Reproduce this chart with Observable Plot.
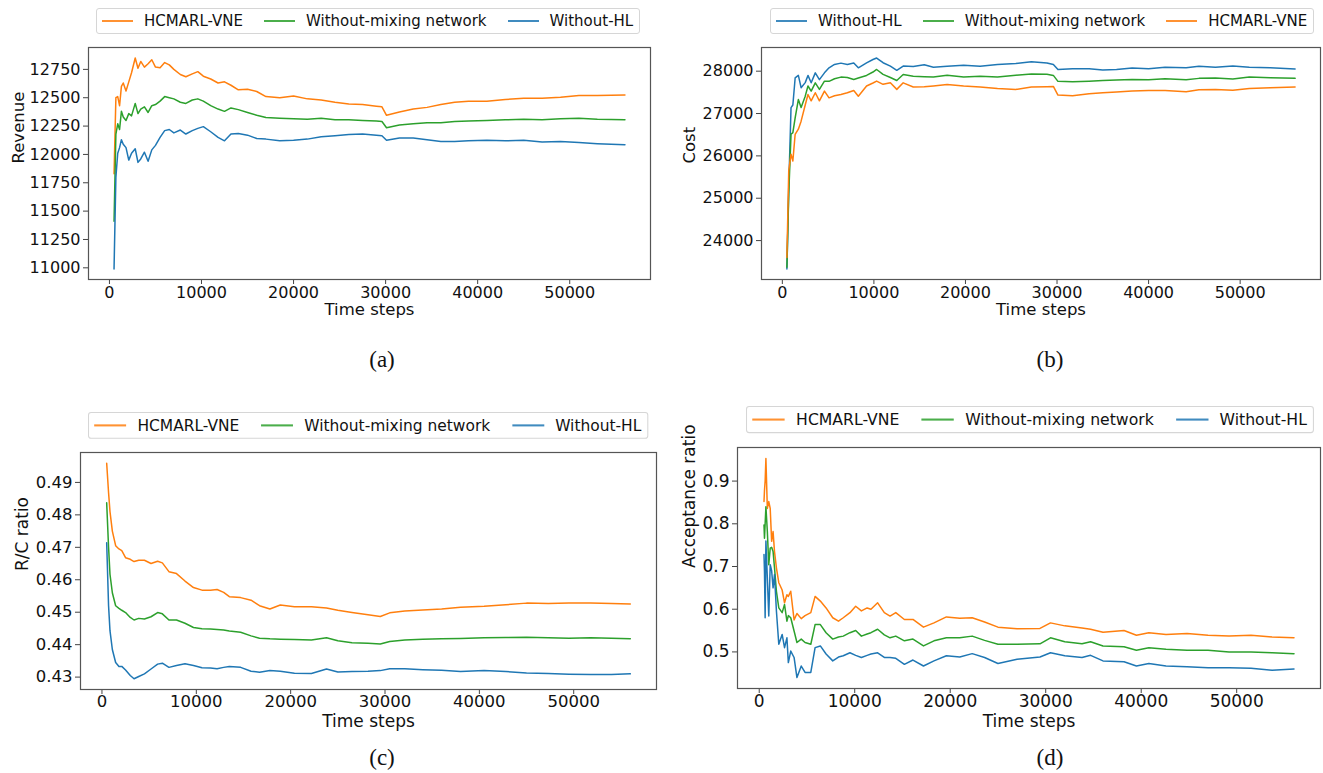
<!DOCTYPE html>
<html><head><meta charset="utf-8">
<script src="https://cdn.jsdelivr.net/npm/d3@7"></script>
<script src="https://cdn.jsdelivr.net/npm/@observablehq/plot@0.6"></script>
<style>
body{margin:0;background:#fff;}
#page{position:relative;width:1323px;height:773px;overflow:hidden;font-family:"DejaVu Sans",sans-serif;background:#fff;}
.panel{position:absolute;}
.legend{position:absolute;display:flex;align-items:center;height:26px;box-sizing:border-box;border:1px solid #d6d6d6;border-radius:3px;padding:0 6px 0 5px;font-size:15px;color:#111;background:#fff;white-space:nowrap;transform-origin:0 0;}
.legend .item{display:flex;align-items:center;margin-right:21px;}
.legend .item:last-child{margin-right:0;}
.legend .swatch{width:31px;height:0;border-top:2px solid;margin-right:11px;opacity:0.85;}
.caption{position:absolute;font-family:"Liberation Serif","Times New Roman",serif;font-size:23px;color:#111;transform:translate(-50%,-50%);}
</style></head><body><div id="page"></div>
<script>
// ---------- names & colours ----------
const seriesNames = {hc: "HCMARL-VNE", nomix: "Without-mixing network", nohl: "Without-HL"};
const seriesColors = {hc: "#ff7f0e", nomix: "#2ca02c", nohl: "#1f77b4"};
const xTicks = [0, 10000, 20000, 30000, 40000, 50000];

// ---------- (a) Revenue ----------
const revenueSteps = [500,700,900,1100,1300,1500,1800,2100,2400,2800,3100,3400,3800,4200,4600,5000,5500,6000,6500,7000,7700,8300,9000,9600,10200,11000,11800,12500,13200,14000,15000,16000,17000,18500,20000,21500,23000,24500,26000,27500,29000,29600,30100,31500,33000,34500,36000,37500,39000,41000,43000,45000,47000,49000,51000,53000,56000];
const revenueHC = [11830,12500,12510,12430,12600,12630,12560,12640,12720,12850,12760,12820,12770,12800,12835,12770,12765,12810,12790,12750,12705,12685,12710,12730,12690,12665,12630,12640,12610,12570,12575,12555,12510,12500,12515,12490,12480,12460,12445,12440,12425,12420,12345,12375,12400,12415,12440,12460,12470,12470,12485,12495,12495,12505,12520,12520,12525];
const revenueNoMix = [11410,12180,12270,12220,12380,12330,12300,12360,12340,12450,12360,12400,12420,12370,12430,12440,12470,12510,12500,12490,12460,12450,12480,12490,12470,12430,12400,12380,12410,12395,12370,12345,12325,12320,12315,12310,12320,12305,12305,12300,12295,12290,12235,12260,12270,12280,12280,12290,12295,12300,12305,12310,12305,12315,12320,12310,12305];
const revenueNoHL = [10990,11800,12010,12060,12130,12090,12060,11950,12010,12050,11930,11960,12020,11940,12040,12080,12150,12210,12220,12190,12215,12180,12210,12230,12245,12200,12150,12120,12180,12185,12170,12140,12135,12120,12125,12135,12155,12165,12175,12180,12170,12165,12125,12145,12145,12130,12115,12115,12120,12125,12120,12125,12110,12115,12105,12095,12085];
const revenueTicks = [11000,11250,11500,11750,12000,12250,12500,12750];

// ---------- (b) Cost ----------
const costSteps = [500,700,950,1150,1400,1750,2050,2500,2800,3150,3600,4050,4600,5100,5700,6400,7100,7800,8300,9200,9900,10300,11000,11800,12500,13200,14300,15500,16500,18000,19800,21600,23500,25500,27200,28900,29600,30100,31700,33500,35000,36500,38200,40000,41800,44100,45500,47300,49200,51000,53300,56000];
const costNoHL = [23330,25250,27140,27200,27840,27900,27610,27730,27900,27725,27960,27800,27960,28080,28160,28190,28160,28195,28080,28195,28275,28310,28200,28120,28020,28120,28110,28150,28095,28115,28140,28115,28155,28180,28220,28195,28160,28040,28055,28060,28030,28040,28075,28055,28095,28080,28115,28095,28125,28095,28080,28050];
const costNoMix = [23370,25100,26510,26550,26900,27330,27140,27410,27650,27530,27725,27570,27765,27760,27820,27860,27850,27805,27840,27900,27980,28040,27925,27850,27780,27920,27880,27870,27860,27905,27860,27880,27860,27905,27935,27925,27900,27760,27750,27765,27780,27790,27805,27796,27820,27800,27830,27840,27815,27860,27845,27830];
const costHC = [23600,25650,26040,25880,26510,26630,26820,27200,27450,27300,27490,27300,27530,27370,27420,27450,27490,27545,27410,27650,27720,27765,27690,27725,27570,27725,27625,27630,27650,27686,27650,27624,27592,27569,27624,27635,27640,27435,27420,27467,27490,27510,27529,27545,27545,27514,27560,27569,27550,27592,27608,27624];
const costTicks = [24000,25000,26000,27000,28000];

// ---------- (c) R/C ratio ----------
const rcSteps = [500,700,850,1100,1450,1800,2100,2500,3000,3400,3900,4500,5200,5900,6400,7100,7900,8800,9700,10600,11500,12200,12900,13500,14700,15800,16700,17800,18900,20400,22200,23800,25000,26500,28200,29500,30500,32100,34000,36000,38000,40500,42800,45000,47300,49500,51800,54000,56000];
const rcHC = [.4959,.4868,.4810,.4750,.4705,.4695,.4690,.4668,.4663,.4656,.4660,.4660,.4650,.4657,.4652,.4625,.4619,.4596,.4576,.4568,.4568,.4570,.4561,.4548,.4545,.4537,.4520,.4510,.4522,.4517,.4517,.4513,.4506,.4499,.4492,.4487,.4498,.4504,.4507,.4510,.4515,.4518,.4523,.4528,.4527,.4528,.4528,.4527,.4525];
const rcNoMix = [.4837,.4700,.4617,.4560,.4520,.4512,.4506,.4499,.4484,.4476,.4481,.4479,.4486,.4499,.4495,.4476,.4476,.4466,.4453,.4449,.4448,.4447,.4445,.4442,.4438,.4427,.4420,.4418,.4417,.4416,.4414,.4421,.4412,.4406,.4404,.4402,.4410,.4414,.4417,.4418,.4419,.4421,.4422,.4423,.4421,.4420,.4421,.4420,.4418];
const rcNoHL = [.4714,.4520,.4443,.4385,.4345,.4333,.4333,.4322,.4305,.4295,.4302,.4310,.4325,.4340,.4343,.4330,.4336,.4341,.4336,.4329,.4328,.4326,.4330,.4333,.4330,.4318,.4315,.4320,.4318,.4312,.4311,.4325,.4316,.4317,.4318,.4320,.4326,.4326,.4323,.4321,.4317,.4320,.4317,.4313,.4311,.4309,.4308,.4308,.4310];
const rcTicks = [0.43,0.44,0.45,0.46,0.47,0.48,0.49];

// ---------- (d) Acceptance ratio ----------
const accSteps = [500,550,620,700,850,1000,1150,1300,1450,1600,1800,2050,2400,2650,2900,3050,3300,3650,3950,4400,4800,5400,5850,6400,7000,7700,8300,8800,9500,10100,10700,11300,11700,12400,13100,13700,14300,15200,16100,17200,18300,19600,21000,22300,23600,25000,27000,29400,30500,32000,33800,34700,36000,38200,39500,40800,42600,44800,47000,49200,51500,53700,56000];
const accHC = [.852,.878,.900,.953,.836,.852,.836,.759,.782,.735,.697,.662,.645,.615,.634,.630,.642,.575,.590,.578,.585,.592,.630,.619,.603,.580,.572,.580,.592,.607,.596,.603,.600,.615,.592,.584,.592,.576,.576,.558,.568,.582,.579,.580,.570,.558,.554,.555,.568,.561,.556,.553,.546,.550,.539,.545,.541,.543,.539,.537,.539,.535,.533];
const accNoMix = [.797,.766,.800,.840,.782,.704,.743,.745,.735,.697,.642,.603,.592,.611,.572,.585,.580,.549,.522,.530,.522,.518,.564,.564,.545,.530,.535,.537,.545,.550,.537,.542,.545,.553,.540,.533,.537,.526,.530,.514,.526,.533,.533,.537,.527,.518,.518,.519,.533,.524,.519,.524,.514,.512,.504,.510,.506,.504,.504,.500,.500,.498,.496];
const accNoHL = [.728,.689,.580,.760,.673,.584,.704,.690,.650,.681,.596,.518,.541,.510,.533,.475,.502,.487,.440,.467,.452,.452,.510,.514,.495,.479,.488,.491,.498,.492,.487,.492,.495,.498,.487,.487,.485,.471,.481,.467,.479,.491,.488,.496,.487,.473,.483,.488,.498,.491,.487,.492,.479,.477,.467,.473,.467,.465,.463,.463,.462,.457,.460];
const accTicks = [0.5,0.6,0.7,0.8,0.9];

// ---------- drawing ----------
const page = document.getElementById("page");

function pad(lo, hi) { const d = hi - lo; return [lo - 0.05 * d, hi + 0.05 * d]; }

function panel(cfg) {
  const rows = [];
  for (const s of cfg.series) cfg.steps.forEach((t, i) => rows.push({t, v: s.values[i], key: s.key}));
  const xs = pad(d3.min(cfg.steps), d3.max(cfg.steps));
  const ys = pad(d3.min(rows, d => d.v), d3.max(rows, d => d.v));
  const chart = Plot.plot({
    width: cfg.width, height: cfg.height,
    marginLeft: cfg.m[3], marginRight: cfg.m[1], marginTop: cfg.m[0], marginBottom: cfg.m[2],
    style: {fontFamily: "'DejaVu Sans', sans-serif", fontSize: cfg.fs + "px", color: "#111", background: "transparent", overflow: "visible"},
    x: {domain: xs},
    y: {domain: ys},
    marks: [
      Plot.axisX({ticks: xTicks, tickFormat: d3.format("d"), tickSize: 5, tickPadding: cfg.tp, label: null, stroke: "#444"}),
      Plot.axisY({ticks: cfg.yTicks, tickFormat: d3.format(cfg.yFormat), tickSize: 5, tickPadding: 3, label: null, stroke: "#444"}),
      ...cfg.series.map(s => Plot.line(rows.filter(r => r.key === s.key), {x: "t", y: "v", stroke: seriesColors[s.key], strokeWidth: 1.5})),
      Plot.frame({stroke: "#555", strokeWidth: 1.2}),
      Plot.text(["Time steps"], {frameAnchor: "bottom", dy: cfg.xLabelDy, fontSize: cfg.lfs, text: d => d, fill: "#111"}),
      Plot.text([cfg.yLabel], {frameAnchor: "left", dx: -cfg.yLabelOffset, rotate: -90, fontSize: cfg.lfs, text: d => d, fill: "#111"})
    ]
  });
  const wrap = document.createElement("div");
  wrap.className = "panel";
  wrap.style.left = cfg.left + "px";
  wrap.style.top = cfg.top + "px";
  wrap.appendChild(chart);
  page.appendChild(wrap);

  const lg = document.createElement("div");
  lg.className = "legend";
  lg.style.left = cfg.legend[0] + "px";
  lg.style.top = cfg.legend[1] + "px";
  lg.style.transform = "scale(" + cfg.legend[2] + ")";
  for (const k of cfg.legendOrder) {
    const it = document.createElement("div");
    it.className = "item";
    const sw = document.createElement("span");
    sw.className = "swatch";
    sw.style.borderTopColor = seriesColors[k];
    const tx = document.createElement("span");
    tx.textContent = seriesNames[k];
    it.appendChild(sw); it.appendChild(tx);
    lg.appendChild(it);
  }
  page.appendChild(lg);

  const cap = document.createElement("div");
  cap.className = "caption";
  cap.style.left = cfg.caption[0] + "px";
  cap.style.top = cfg.caption[1] + "px";
  cap.textContent = cfg.caption[2];
  page.appendChild(cap);
}

panel({
  steps: revenueSteps,
  series: [{key: "hc", values: revenueHC}, {key: "nomix", values: revenueNoMix}, {key: "nohl", values: revenueNoHL}],
  yTicks: revenueTicks, yFormat: "d", yLabel: "Revenue", yLabelOffset: 70, fs: 16, lfs: 16.5, xLabelDy: 35, tp: 2,
  left: 0, top: 40, width: 660, height: 290, m: [7, 10, 51, 88],
  legend: [96, 8, 1], legendOrder: ["hc", "nomix", "nohl"], caption: [382, 360, "(a)"]
});
panel({
  steps: costSteps,
  series: [{key: "nohl", values: costNoHL}, {key: "nomix", values: costNoMix}, {key: "hc", values: costHC}],
  yTicks: costTicks, yFormat: "d", yLabel: "Cost", yLabelOffset: 72, fs: 16, lfs: 16.5, xLabelDy: 35, tp: 2,
  left: 661, top: 40, width: 662, height: 290, m: [7, 3, 51, 100],
  legend: [770, 8, 1], legendOrder: ["nohl", "nomix", "hc"], caption: [1050, 360, "(b)"]
});
panel({
  steps: rcSteps,
  series: [{key: "hc", values: rcHC}, {key: "nomix", values: rcNoMix}, {key: "nohl", values: rcNoHL}],
  yTicks: rcTicks, yFormat: ".2f", yLabel: "R/C ratio", yLabelOffset: 58, fs: 16.5, lfs: 17, xLabelDy: 37.5, tp: 1,
  left: 0, top: 440, width: 662, height: 290, m: [12, 6, 41, 80],
  legend: [88, 412, 1.03], legendOrder: ["hc", "nomix", "nohl"], caption: [382, 758, "(c)"]
});
panel({
  steps: accSteps,
  series: [{key: "hc", values: accHC}, {key: "nomix", values: accNoMix}, {key: "nohl", values: accNoHL}],
  yTicks: accTicks, yFormat: ".1f", yLabel: "Acceptance ratio", yLabelOffset: 48, fs: 17, lfs: 17, xLabelDy: 38, tp: 1,
  left: 661, top: 440, width: 662, height: 290, m: [7, 3, 42, 76],
  legend: [746, 406, 1.044], legendOrder: ["hc", "nomix", "nohl"], caption: [1050, 758, "(d)"]
});
</script></body></html>
